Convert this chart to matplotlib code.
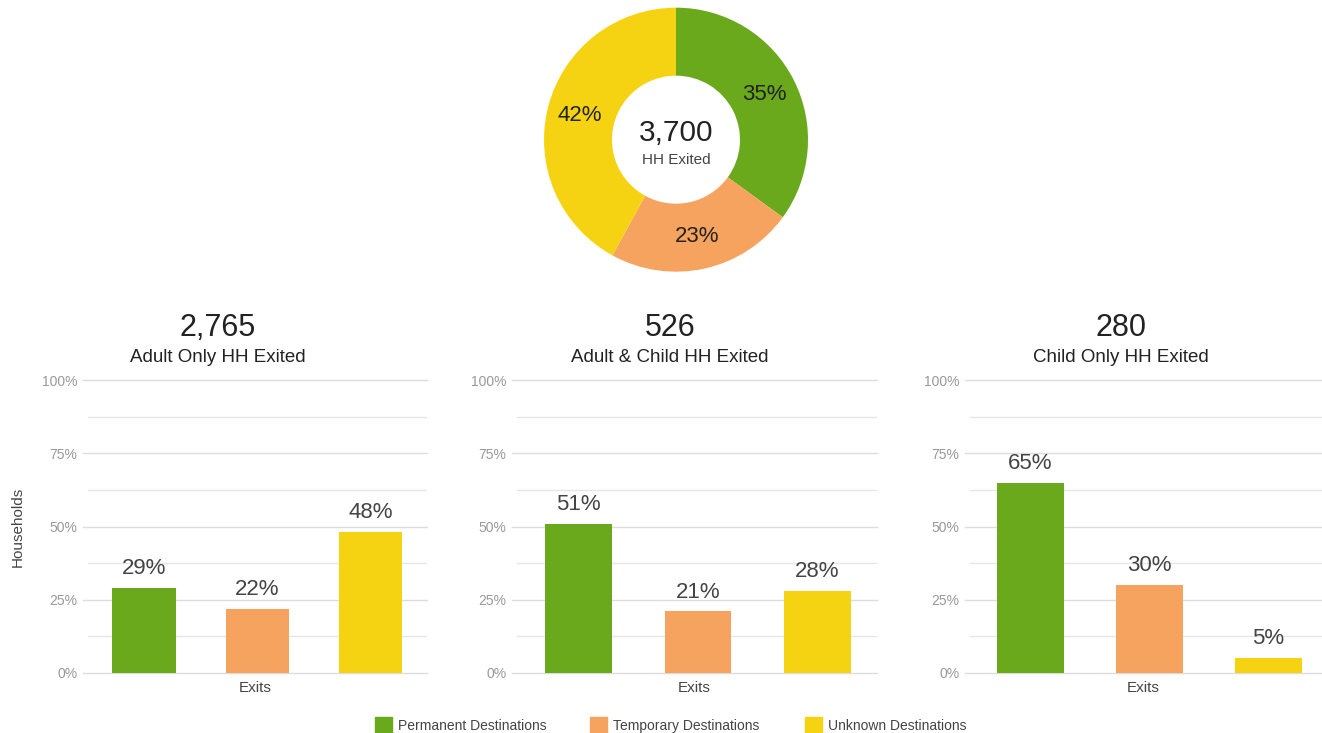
import matplotlib
matplotlib.use("Agg")
import matplotlib.pyplot as plt
from matplotlib.patches import Rectangle

plt.rcParams['font.family'] = ['Liberation Sans', 'DejaVu Sans']

# data
categories = ['Permanent Destinations', 'Temporary Destinations', 'Unknown Destinations']
colors = ['#6aa81c', '#f6a35f', '#f6d312']
total_share = [35, 23, 42]
total_exited = 3700
panel_counts = [2765, 526, 280]
panel_titles = ['Adult Only HH Exited', 'Adult & Child HH Exited', 'Child Only HH Exited']
adult_only = [29, 22, 48]
adult_child = [51, 21, 28]
child_only = [65, 30, 5]
panel_values = [adult_only, adult_child, child_only]
y_ticks = [0, 25, 50, 75, 100]
y_minor = [12.5, 37.5, 62.5, 87.5]

W, H = 1322, 733
fig = plt.figure(figsize=(W / 100, H / 100), dpi=100)


def fx(px):
    return px / W


def fy(py):
    return 1 - py / H


# donut
ax = fig.add_axes([fx(544), fy(273), fx(264), 264 / H])
ax.pie(total_share, colors=colors, startangle=90, counterclock=False,
       radius=1, wedgeprops=dict(width=1 - 64 / 132, edgecolor='none'),
       autopct='%d%%', pctdistance=0.75,
       textprops=dict(fontsize=16, color='#222222'))
ax.set_xlim(-1, 1)
ax.set_ylim(-1.01, 0.99)
ax.set_aspect('equal')
ax.axis('off')
fig.text(fx(676), fy(133), f'{total_exited:,}', fontsize=21.5, color='#222222',
         ha='center', va='center')
fig.text(fx(676), fy(160), 'HH Exited', fontsize=11, color='#444444',
         ha='center', va='center')

# bar panels
axes_px = [(83, 427), (512, 877), (965, 1322)]
xlims = [(-0.54, 2.50), (-0.56, 2.50), (-0.55, 2.45)]
title_x = [218, 670, 1121]
for i in range(3):
    l, r = axes_px[i]
    ax = fig.add_axes([fx(l), fy(673), fx(r - l), (673 - 380) / H])
    vals = panel_values[i]
    xs = range(len(vals))
    for y in y_ticks:
        ax.axhline(y, color='#dcdcdc', lw=1, zorder=0, clip_on=False)
    for y in y_minor:
        ax.axhline(y, xmin=0.015, color='#e6e6e6', lw=1, zorder=0)
    ax.bar(xs, vals, width=0.56, color=colors, zorder=2)
    for x, v in zip(xs, vals):
        ax.annotate(f'{v}%', (x, v), xytext=(0, 10), textcoords='offset points',
                    ha='center', va='baseline', fontsize=16, color='#444444')
    ax.set_xlim(*xlims[i])
    ax.set_ylim(0, 100)
    ax.set_yticks(y_ticks)
    ax.set_yticklabels([f'{t}%' for t in y_ticks], fontsize=10, color='#999999')
    ax.tick_params(axis='y', length=0, pad=4)
    ax.set_xticks([])
    for s in ax.spines.values():
        s.set_visible(False)
    ax.set_xlabel('Exits', fontsize=11, color='#444444', labelpad=6)
    fig.text(fx(title_x[i]), fy(328), f'{panel_counts[i]:,}', fontsize=22,
             color='#222222', ha='center', va='center')
    fig.text(fx(title_x[i]), fy(357), panel_titles[i], fontsize=13.5,
             color='#222222', ha='center', va='center')

fig.text(fx(18), fy(527), 'Households', rotation=90, fontsize=11,
         color='#444444', ha='center', va='center')

# legend
leg_x = [375, 590, 805]
for i, name in enumerate(categories):
    fig.patches.append(Rectangle((fx(leg_x[i]), fy(733)), fx(17), 16 / H,
                                 transform=fig.transFigure, color=colors[i]))
    fig.text(fx(leg_x[i] + 23), fy(726), name, fontsize=10, color='#444444',
             ha='left', va='center')

fig.savefig('out.png', dpi=100, facecolor='white')
